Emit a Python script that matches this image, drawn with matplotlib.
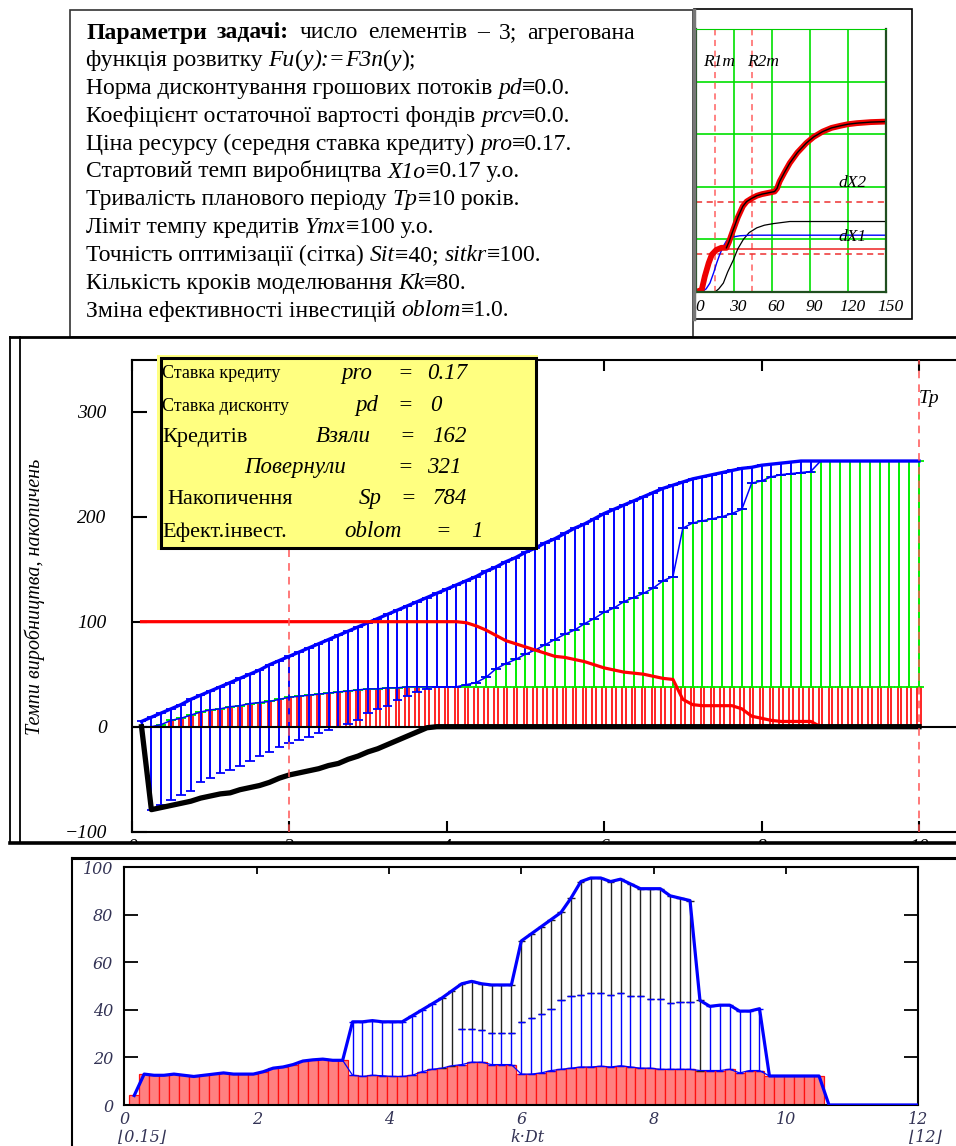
import matplotlib
matplotlib.use("Agg")
import matplotlib.pyplot as plt
from matplotlib.patches import Rectangle
from matplotlib.lines import Line2D
from matplotlib.transforms import ScaledTranslation
import numpy as np

W, H = 956, 1146
SERIF = ["Liberation Serif", "DejaVu Serif"]

# ---------------- data ----------------
# small chart, top right (x in steps 0..150, y in grid units 0..5)
mini_total_x = [0, 4.5, 7, 10, 12.5, 16, 20, 24, 26, 29.5, 33, 37, 40, 44, 48, 52, 58, 62, 64, 66, 70,
                74, 80, 87, 93, 100, 107, 114, 120, 127, 138, 150]
mini_total_y = [0, 0.04, 0.30, 0.55, 0.71, 0.80, 0.84, 0.84, 0.95, 1.19, 1.42, 1.63, 1.72, 1.78, 1.83,
                1.86, 1.89, 1.91, 1.97, 2.10, 2.28, 2.45, 2.65, 2.83, 2.95, 3.05, 3.12, 3.16, 3.19,
                3.21, 3.23, 3.24]
mini_dx1_x = [4.5, 8, 11, 14, 16.3, 19, 21.6, 24, 26.9, 30, 34.8, 44, 150]
mini_dx1_y = [0, 0.06, 0.17, 0.37, 0.55, 0.73, 0.87, 0.97, 1.03, 1.05, 1.07, 1.08, 1.08]
mini_dx2_x = [15, 18, 21.6, 25, 29.5, 33, 37.4, 42, 48, 54, 61, 74, 150]
mini_dx2_y = [0, 0.06, 0.17, 0.38, 0.61, 0.82, 1.0, 1.13, 1.22, 1.27, 1.30, 1.34, 1.34]
mini_level_x = [21.6, 150]
mini_level_y = [0.82, 0.82]
mini_r_marks = [15, 44.3]
mini_h_marks = [1.72, 0.73]

# middle chart, k = 1..80, step Dt = 0.125
mid_step = 0.125
mid_upper = [5, 9, 13, 17, 21, 26, 30, 34, 38, 42, 46, 50, 54, 59, 63, 67,
             71, 75, 79, 83, 87, 91, 95, 99, 103, 107, 111, 115, 119, 123, 127, 131,
             135, 139, 143, 148, 152, 157, 161, 166, 170, 175, 179, 184, 189, 193, 198, 203,
             207, 211, 215, 219, 223, 227, 230, 233, 236, 238, 240, 242, 244, 246, 247, 249,
             250, 251, 252, 253, 253, 253, 253, 253, 253, 253, 253, 253, 253, 253, 253, 253]
mid_green_top = [0, 0, 2, 6, 8, 11, 14, 16, 17, 19, 20, 22, 23, 24, 26, 28,
                 29, 30, 31, 32, 33, 34, 35, 36, 36, 37, 37, 38, 38, 38, 38, 38,
                 38, 40, 42, 47, 55, 60, 64, 69, 73, 78, 83, 88, 92, 98, 103, 109,
                 113, 119, 123, 127, 132, 139, 143, 189, 194, 196, 198, 200, 203, 207, 232, 234,
                 238, 240, 241, 242, 243, 253, 253, 253, 253, 253, 253, 253, 253, 253, 253, 253]
mid_own = [0, 0, 2, 6, 8, 11, 14, 16, 17, 19, 20, 22, 23, 24, 26, 28,
           29, 30, 31, 32, 33, 34, 35, 36, 36, 37, 37, 38, 38, 38, 38, 38,
           38, 38, 38, 38, 38, 38, 38, 38, 38, 38, 38, 38, 38, 38, 38, 38,
           38, 38, 38, 38, 38, 38, 38, 38, 38, 38, 38, 38, 38, 38, 38, 38,
           38, 38, 38, 38, 38, 38, 38, 38, 38, 38, 38, 38, 38, 38, 38, 38]
# bottom of the blue bars while credit is still being repaid (k = 1..30)
mid_blue_low = [0, -79, -75, -70, -65, -61, -53, -49, -44, -41, -37, -33, -28, -24, -19, -16,
                -13, -10, -6, -3, 0, 3, 6, 13, 17, 20, 25, 29, 33, 36]
mid_debt = [0, -79, -77, -75, -73, -71, -68, -66, -64, -63, -60, -58, -56, -53, -49, -46,
            -44, -42, -40, -37, -35, -31, -28, -24, -21, -17, -13, -9, -5, -1, 0, 0,
            0, 0, 0, 0, 0, 0, 0, 0, 0, 0, 0, 0, 0, 0, 0, 0,
            0, 0, 0, 0, 0, 0, 0, 0, 0, 0, 0, 0, 0, 0, 0, 0,
            0, 0, 0, 0, 0, 0, 0, 0, 0, 0, 0, 0, 0, 0, 0, 0]
mid_credit = [100, 100, 100, 100, 100, 100, 100, 100, 100, 100, 100, 100, 100, 100, 100, 100,
              100, 100, 100, 100, 100, 100, 100, 100, 100, 100, 100, 100, 100, 100, 100, 100,
              100, 99, 96, 92, 87, 82, 79, 76, 73, 70, 67, 66, 64, 62, 59, 56,
              54, 52, 51, 50, 48, 46, 45, 26, 21, 20, 20, 20, 20, 17, 10, 8,
              6, 5, 5, 5, 5, 0]
mid_marks = [2, 10]

# bottom chart, k = 1..80, step Dt = 0.15
bot_step = 0.15
bot_upper = [4, 13, 12.5, 12.5, 13, 12.5, 12, 12.5, 13, 13.5, 13, 13, 13, 14, 15.5, 16, 17, 18.5, 19, 19.3,
             18.8, 18.8, 35, 35, 35.5, 35, 35, 35, 37.5, 40, 42.5, 45, 48, 51, 52, 51, 50.5, 50.5, 50.5,
             69, 72, 75, 78, 81, 87, 94, 95.5, 95.5, 94, 95, 93, 91, 91, 91, 88, 87, 86,
             44, 41.5, 42, 42, 39.5, 39.5, 40.5,
             12.2, 12.2, 12.2, 12.2, 12.2, 12.2,
             0, 0, 0, 0, 0, 0, 0, 0, 0, 0]
bot_own = [4, 13, 12.5, 12.5, 13, 12.5, 12, 12.5, 13, 13.5, 13, 13, 13, 14, 15.5, 16, 17, 18.5, 19, 19.3,
           18.8, 18.8, 12.5, 12, 12.5, 12.3, 12, 12, 12.5, 14, 15, 15.5, 16.5, 17, 18, 18, 17, 17, 17,
           13, 13, 13.5, 14.5, 15, 15.5, 16, 16, 16.3, 16, 16.5, 16, 15.5, 15.5, 15, 15, 15, 15,
           14.5, 14.5, 14.5, 15, 13.5, 14.5, 14.5,
           12.2, 12.2, 12.2, 12.2, 12.2, 12.2]
bot_mid = [4, 13, 12.5, 12.5, 13, 12.5, 12, 12.5, 13, 13.5, 13, 13, 13, 14, 15.5, 16, 17, 18.5, 19, 19.3,
           18.8, 18.8, 35, 35, 35.5, 35, 35, 35, 37.5, 40, 42.5, 15.5, 16.5,
           32, 32, 31.5, 30.5, 30.5, 30.5, 35, 36.5, 38.3, 40.3, 44.2, 46, 46.3, 47, 47, 46.3, 47, 45.7,
           45.7, 44.6, 44.6, 43, 43.5, 43.5,
           14.5, 41.5, 42, 42, 39.5, 39.5, 40.5,
           12.2, 12.2, 12.2, 12.2, 12.2, 12.2]

N, I, B = "normal", "italic", "bold"
params = [
    [("Параметри", N, B), ("задачі:", N, B), ("число", N, N), ("елементів", N, N), ("–", N, N),
     ("3;", N, N), ("агрегована", N, N)],
    [("функція розвитку ", N, N), ("Fu", I, N), ("(", N, N), ("y", I, N), ("):=", I, N), ("F3n", I, N),
     ("(", N, N), ("y", I, N), (");", N, N)],
    [("Норма дисконтування грошових потоків ", N, N), ("pd", I, N), ("≡0.0.", N, N)],
    [("Коефіцієнт остаточної вартості фондів ", N, N), ("prcv", I, N), ("≡0.0.", N, N)],
    [("Ціна ресурсу (середня ставка кредиту) ", N, N), ("pro", I, N), ("≡0.17.", N, N)],
    [("Стартовий темп виробництва ", N, N), ("X1o", I, N), ("≡0.17 у.о.", N, N)],
    [("Тривалість планового періоду ", N, N), ("Tp", I, N), ("≡10 років.", N, N)],
    [("Ліміт темпу кредитів ", N, N), ("Ymx", I, N), ("≡100 у.о.", N, N)],
    [("Точність оптимізації (сітка) ", N, N), ("Sit", I, N), ("≡40; ", N, N), ("sitkr", I, N),
     ("≡100.", N, N)],
    [("Кількість кроків моделювання ", N, N), ("Kk", I, N), ("≡80.", N, N)],
    [("Зміна ефективності інвестицій ", N, N), ("oblom", I, N), ("≡1.0.", N, N)],
]

# ---------------- figure helpers ----------------
fig = plt.figure(figsize=(W / 100, H / 100), dpi=100)
fig.patch.set_facecolor("white")
renderer = fig.canvas.get_renderer()


def fx(px):
    return px / W


def fy(py):
    return 1 - py / H


def axes_px(left, top, right, bottom):
    return fig.add_axes([fx(left), fy(bottom), (right - left) / W, (bottom - top) / H])


def fig_line(x0, y0, x1, y1, **kw):
    fig.add_artist(Line2D([fx(x0), fx(x1)], [fy(y0), fy(y1)], transform=fig.transFigure, **kw))


def fig_rect(x0, y0, x1, y1, **kw):
    fig.add_artist(Rectangle((fx(x0), fy(y1)), fx(x1) - fx(x0), fy(y0) - fy(y1),
                             transform=fig.transFigure, **kw))


def text_w(s, **kw):
    t = fig.text(0, 0, s + "|", **kw)
    t2 = fig.text(0, 0, "|", **kw)
    w = t.get_window_extent(renderer).width - t2.get_window_extent(renderer).width
    t.remove()
    t2.remove()
    return w


def rich(x, y, parts, size, justify_to=None):
    kws = [dict(fontsize=size, family=SERIF, style=st, weight=wt) for _, st, wt in parts]
    widths = [text_w(s, **kw) for (s, _, _), kw in zip(parts, kws)]
    gap = 0
    if justify_to is not None:
        gap = (justify_to - x - sum(widths)) / (len(parts) - 1)
    for (s, _, _), kw, w in zip(parts, kws, widths):
        fig.text(fx(x), fy(y), s, va="baseline", ha="left", zorder=4, **kw)
        x += w + gap


def ftext(x, y, s, size, ha="left", va="baseline", style="normal", **kw):
    fig.text(fx(x), fy(y), s, fontsize=size, family=SERIF, style=style, ha=ha, va=va, zorder=4, **kw)


# ---------------- top-left parameter box ----------------
fig_rect(70, 10, 693, 337, facecolor="none", edgecolor="#333333", lw=1.2)
for i, parts in enumerate(params):
    rich(86, 38.5 + 27.8 * i, parts, 17, justify_to=635 if i == 0 else None)

# ---------------- top-right small chart ----------------
fig_rect(694, 9, 912, 319, facecolor="none", edgecolor="black", lw=1.2)
fig_line(694, 10, 694, 319, color="#777777", lw=2.5)
axm = axes_px(696, 29, 886, 292)
axm.set_xlim(0, 150)
axm.set_ylim(0, 5)
axm.set_xticks([0, 30, 60, 90, 120, 150])
axm.set_yticks([0, 1, 2, 3, 4, 5])
axm.set_yticklabels([])
axm.grid(True, color="#00e000", lw=1.2)
axm.tick_params(length=0, pad=5, labelsize=12.5)
shift = ScaledTranslation(4 / 100, 0, fig.dpi_scale_trans)
for lbl in axm.get_xticklabels():
    lbl.set_family(SERIF)
    lbl.set_style("italic")
    lbl.set_transform(lbl.get_transform() + shift)
for side in ["left", "bottom", "right"]:
    axm.spines[side].set_color("#1f4f1f")
    axm.spines[side].set_linewidth(1.6)
axm.spines["top"].set_color("#00cc00")
for v in mini_r_marks:
    axm.axvline(v, color="#ff6060", ls=(0, (4, 3)), lw=1.1)
for h in mini_h_marks:
    axm.axhline(h, color="#ee3030", ls=(0, (4, 3)), lw=1.1)
axm.plot(mini_level_x, mini_level_y, color="#ee2222", lw=1.1)
axm.plot(mini_dx2_x, mini_dx2_y, color="black", lw=0.9)
axm.plot(mini_dx1_x, mini_dx1_y, color="blue", lw=1.0)
axm.plot(mini_total_x, mini_total_y, color="#ee0000", lw=4.2, solid_capstyle="round",
         solid_joinstyle="round")
axm.plot(mini_total_x[7:], mini_total_y[7:], color="black", lw=1.0)
ftext(703, 66, "R1m", 12.5, style="italic")
ftext(747, 66, "R2m", 12.5, style="italic")
ftext(838, 187, "dX2", 12.5, style="italic")
ftext(838, 241, "dX1", 12.5, style="italic")

# ---------------- middle chart ----------------
ax = axes_px(131.7, 360, 956, 831.7)
ax.set_xlim(0.018, 10.47)
ax.set_ylim(-100, 349.2)
xm = mid_step * np.arange(1, len(mid_upper) + 1)
U = np.array(mid_upper, float)
G = np.array(mid_green_top, float)
R = np.array(mid_own, float)
BL = np.array(mid_blue_low + mid_green_top[len(mid_blue_low):], float)
cap = 0.06

ax.bar(xm, R, width=0.045, fill=False, edgecolor="red", lw=1.2, zorder=2)
ax.hlines(R, xm - 0.065, xm + 0.065, color="#00ee00", lw=1.3, zorder=3)
ax.hlines(G, xm - 0.065, xm + 0.065, color="#00ee00", lw=1.3, zorder=3)
mg = G > R
ax.vlines(xm[mg], R[mg], G[mg], color="#00ee00", lw=1.4, zorder=3)
mb = U > BL
ax.vlines(xm[mb], BL[mb], U[mb], color="blue", lw=1.4, zorder=3)
ax.hlines(BL[mb], xm[mb] - cap, xm[mb] + cap, color="blue", lw=1.3, zorder=3)
ax.hlines(U[mb], xm[mb] - cap, xm[mb] + cap, color="blue", lw=1.3, zorder=3)
ax.plot(xm, G, color="blue", lw=1.1, zorder=4)
ax.plot(xm, U, color="blue", lw=2.4, zorder=4)
ax.axhline(0, color="black", lw=1.5, zorder=4)
ax.plot(xm[:len(mid_credit)], mid_credit, color="red", lw=2.3, zorder=5)
ax.plot(xm, mid_debt, color="black", lw=3.8, zorder=6)
for v in mid_marks:
    ax.axvline(v, color="#ff5555", ls=(0, (5, 4)), lw=1.1, zorder=6)
ax.text(10.0, 313, "Tp", fontsize=14, family=SERIF, style="italic", va="center", ha="left")

ax.spines["right"].set_visible(False)
for side in ["left", "top", "bottom"]:
    ax.spines[side].set_linewidth(1.5)
ax.set_yticks([-100, 0, 100, 200, 300])
ax.set_yticklabels(["\u2212100", "0", "100", "200", "300"])
ax.set_xticks([0, 2, 4, 6, 8, 10])
ax.set_xticklabels(["0", "2", "4", "6", "8", "10"])
ax.tick_params(axis="y", direction="in", length=11, width=1.5, pad=18, labelsize=14)
ax.tick_params(axis="x", direction="in", length=8, width=1.5, pad=5, labelsize=14, top=True)
for lbl in ax.get_xticklabels() + ax.get_yticklabels():
    lbl.set_family(SERIF)
    lbl.set_style("italic")
fig.text(fx(35), fy(597), "Темпи виробництва, накопичень", rotation=90, fontsize=14.5,
         family=SERIF, style="italic", ha="center", va="center")

# yellow summary box
fig_rect(157.3, 355, 538.3, 550, facecolor="#ffff80", edgecolor="none", zorder=3)
fig_rect(161, 358.3, 536, 548.3, facecolor="none", edgecolor="black", lw=2.2, zorder=3)
ftext(162, 378.5, "Ставка кредиту", 13)
ftext(357, 379, "pro", 16.5, ha="center", style="italic")
ftext(405, 379, "=", 16.5, ha="center", style="italic")
ftext(427, 379, "0.17", 16.5, style="italic")
ftext(162, 410.7, "Ставка дисконту", 13)
ftext(367, 411, "pd", 16.5, ha="center", style="italic")
ftext(405, 411, "=", 16.5, ha="center", style="italic")
ftext(430, 411, "0", 16.5, style="italic")
ftext(162, 441.7, "Кредитів", 16)
ftext(343, 442, "Взяли", 16.5, ha="center", style="italic")
ftext(407, 442, "=", 16.5, ha="center", style="italic")
ftext(432, 442, "162", 16.5, style="italic")
ftext(295, 473.3, "Повернули", 16.5, ha="center", style="italic")
ftext(405, 473.3, "=", 16.5, ha="center", style="italic")
ftext(427, 473.3, "321", 16.5, style="italic")
ftext(167, 504, "Накопичення", 16)
ftext(370, 504, "Sp", 16.5, ha="center", style="italic")
ftext(408, 504, "=", 16.5, ha="center", style="italic")
ftext(433, 504, "784", 16.5, style="italic")
ftext(162, 536.7, "Ефект.інвест.", 16)
ftext(373, 536.7, "oblom", 16.5, ha="center", style="italic")
ftext(443, 536.7, "=", 16.5, ha="center", style="italic")
ftext(471, 536.7, "1", 16.5, style="italic")

# cut the bottom tick labels at the frame, as in the source
fig_rect(0, 844, 956, 856, facecolor="white", edgecolor="none", zorder=5)
fig_line(10, 337, 10, 843, color="black", lw=1.3, zorder=6)
fig_line(20, 337, 20, 843, color="black", lw=1.3, zorder=6)
fig_line(10, 337, 956, 337, color="black", lw=2.0, zorder=6)
fig_line(10, 843, 956, 843, color="black", lw=2.6, zorder=6)

# ---------------- bottom chart ----------------
fig_line(72, 858, 72, 1146, color="black", lw=1.5)
fig_line(72, 858, 956, 858, color="black", lw=2.2)
axb = axes_px(124.3, 867.3, 918.3, 1105)
axb.set_xlim(0, 12)
axb.set_ylim(0, 100)
xb = bot_step * np.arange(1, len(bot_upper) + 1)
BU = np.array(bot_upper, float)
n = len(bot_own)
BR = np.array(bot_own, float)
BM = np.array(bot_mid, float)
xr = xb[:n]
axb.bar(xr, BR, width=bot_step, facecolor="#ff8080", edgecolor="#ff1010", lw=0.9, zorder=2)
bc = 0.055
mk = BU[:n] > BM
axb.vlines(xr[mk], BM[mk], BU[:n][mk], color="#222222", lw=1.0, zorder=3)
axb.hlines(BU[:n][mk], xr[mk] - bc, xr[mk] + bc, color="#222222", lw=1.0, zorder=3)
axb.hlines(BM[mk], xr[mk] - bc, xr[mk] + bc, color="#222222", lw=1.0, zorder=3)
mbb = BM > BR
axb.vlines(xr[mbb], BR[mbb], BM[mbb], color="blue", lw=1.0, zorder=3)
axb.hlines(BM[mbb], xr[mbb] - bc, xr[mbb] + bc, color="blue", lw=1.0, zorder=3)
axb.hlines(BR[mbb], xr[mbb] - bc, xr[mbb] + bc, color="blue", lw=1.0, zorder=3)
axb.plot(xr, BR, color="blue", lw=0.9, zorder=4)
axb.plot(xb, BU, color="blue", lw=2.3, zorder=5)
for side in axb.spines.values():
    side.set_linewidth(1.5)
axb.set_xticks([0, 2, 4, 6, 8, 10, 12])
axb.set_yticks([0, 20, 40, 60, 80, 100])
axb.tick_params(axis="y", direction="in", length=10, width=1.3, pad=8, labelsize=11.5,
                right=True, labelcolor="#333355")
axb.tick_params(axis="x", direction="in", length=5, width=1.3, pad=4, labelsize=11.5,
                top=True, bottom=False, labelcolor="#333355")
for lbl in axb.get_xticklabels() + axb.get_yticklabels():
    lbl.set_family(["DejaVu Serif"])
    lbl.set_style("italic")
for xpos, s in [(141.7, "\u230a0.15\u230b"), (527, "k·Dt"), (925, "\u230a12\u230b")]:
    fig.text(fx(xpos), fy(1138), s, fontsize=11.5, family=["DejaVu Serif"], style="italic",
             color="#333355", ha="center", va="center")

fig.savefig("out.png", dpi=100, facecolor="white")
